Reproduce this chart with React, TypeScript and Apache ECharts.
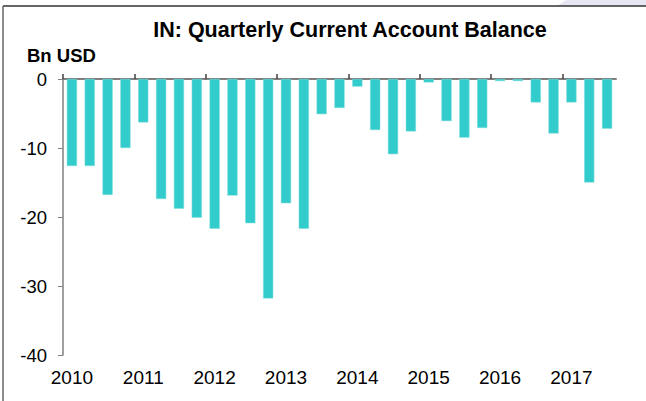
import React, { useEffect, useRef } from "react";
import * as echarts from "echarts";

const quarters: string[] = [
  "2010Q1", "2010Q2", "2010Q3", "2010Q4",
  "2011Q1", "2011Q2", "2011Q3", "2011Q4",
  "2012Q1", "2012Q2", "2012Q3", "2012Q4",
  "2013Q1", "2013Q2", "2013Q3", "2013Q4",
  "2014Q1", "2014Q2", "2014Q3", "2014Q4",
  "2015Q1", "2015Q2", "2015Q3", "2015Q4",
  "2016Q1", "2016Q2", "2016Q3", "2016Q4",
  "2017Q1", "2017Q2", "2017Q3",
];

const balance: number[] = [
  -12.6, -12.6, -16.8, -10.0,
  -6.3, -17.4, -18.8, -20.1,
  -21.7, -16.9, -20.9, -31.8,
  -18.0, -21.7, -5.1, -4.2,
  -1.1, -7.4, -10.9, -7.6,
  -0.5, -6.1, -8.5, -7.1,
  -0.3, -0.3, -3.4, -7.9,
  -3.4, -15.0, -7.2,
];

const yTicks: number[] = [0, -10, -20, -30, -40];

const titleText = "IN: Quarterly Current Account Balance";
const unitText = "Bn USD";

const FONT = "Liberation Sans, Arial, sans-serif";

// year boundaries (index of each Q1 category)
const yearStarts: number[] = quarters
  .map((q, i) => (q.endsWith("Q1") ? i : -1))
  .filter((i) => i >= 0);

export default function App() {
  const ref = useRef<HTMLDivElement>(null);

  useEffect(() => {
    if (!ref.current) return;
    const chart = echarts.init(ref.current, undefined, { renderer: "svg" });
    const option: any = {
      animation: false,
      backgroundColor: "#ffffff",
      textStyle: { fontFamily: FONT },
      grid: { left: 63, top: 79, right: 30, bottom: 46, containLabel: false },
      graphic: [
        {
          type: "polygon",
          shape: { points: [[566, 0], [646, 0], [646, 6], [557, 6]] },
          style: { fill: "#E6E7F0" },
          silent: true,
        },
        {
          type: "line",
          shape: { x1: 3, y1: 6, x2: 646, y2: 6 },
          style: { stroke: "#333333", lineWidth: 1.5 },
          silent: true,
        },
        {
          type: "line",
          shape: { x1: 3, y1: 6, x2: 3, y2: 401 },
          style: { stroke: "#666666", lineWidth: 1.5 },
          silent: true,
        },
        {
          type: "text",
          x: 350,
          y: 30,
          style: {
            text: titleText,
            fontFamily: FONT,
            fontSize: 21.5,
            fontWeight: "bold",
            fill: "#000000",
            textAlign: "center",
            textVerticalAlign: "middle",
          },
        },
        {
          type: "text",
          x: 27,
          y: 55,
          style: {
            text: unitText,
            fontFamily: FONT,
            fontSize: 18.5,
            fontWeight: "bold",
            fill: "#000000",
            textAlign: "left",
            textVerticalAlign: "middle",
          },
        },
      ],
      xAxis: [
        {
          type: "category",
          data: quarters,
          position: "top",
          boundaryGap: true,
          axisLine: { show: true, onZero: false, lineStyle: { color: "#808080", width: 2 } },
          axisTick: { show: false },
          axisLabel: { show: false },
          splitLine: { show: false },
        },
        {
          type: "category",
          data: quarters,
          position: "bottom",
          boundaryGap: true,
          axisLine: { show: false, onZero: false },
          axisTick: { show: false },
          axisLabel: {
            show: true,
            interval: (i: number) => i % 4 === 0,
            formatter: (v: string) => v.slice(0, 4),
            fontFamily: FONT,
            fontSize: 19,
            color: "#000000",
            margin: 13,
          },
          splitLine: { show: false },
        },
        {
          type: "value",
          position: "top",
          min: 0,
          max: quarters.length,
          axisLine: { show: false, onZero: false },
          axisTick: {
            show: true,
            inside: false,
            length: 5,
            customValues: yearStarts,
            lineStyle: { color: "#404040", width: 1.5 },
          },
          axisLabel: { show: false },
          splitLine: { show: false },
        },
      ],
      yAxis: {
        type: "value",
        min: yTicks[yTicks.length - 1],
        max: yTicks[0],
        interval: 10,
        axisLine: { show: true, lineStyle: { color: "#808080", width: 1.5 } },
        axisTick: { show: true, inside: false, length: 5, lineStyle: { color: "#808080", width: 1 } },
        axisLabel: { fontFamily: FONT, fontSize: 18.5, color: "#000000", margin: 16 },
        splitLine: { show: false },
      },
      series: [
        {
          type: "bar",
          xAxisIndex: 0,
          data: balance,
          barWidth: "57%",
          itemStyle: { color: "#33CCCC", borderColor: "#7FDDDD", borderWidth: 0.5 },
        },
      ],
    };
    chart.setOption(option);
    return () => chart.dispose();
  }, []);

  return (
    <div
      ref={ref}
      style={{ position: "fixed", left: 0, top: 0, width: 646, height: 401 }}
    />
  );
}
